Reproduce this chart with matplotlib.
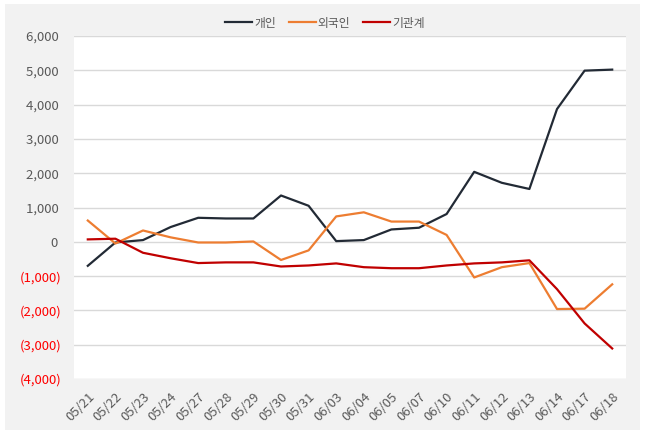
import matplotlib.pyplot as plt
import matplotlib.ticker as ticker
from matplotlib.patches import Rectangle

plt.rcParams['font.family'] = ['Noto Sans CJK KR', 'DejaVu Sans']

dates = ["05/21", "05/22", "05/23", "05/24", "05/27", "05/28", "05/29", "05/30", "05/31", "06/03",
         "06/04", "06/05", "06/07", "06/10", "06/11", "06/12", "06/13", "06/14", "06/17", "06/18"]
personal = [-700, -20, 50, 430, 700, 680, 680, 1350, 1050, 20,
            50, 360, 410, 810, 2040, 1720, 1540, 3870, 4990, 5020]
foreign = [620, -50, 330, 130, -20, -20, 10, -530, -250, 740,
           860, 590, 590, 200, -1040, -740, -620, -1960, -1950, -1240]
institution = [70, 90, -320, -480, -620, -600, -600, -720, -690, -630,
               -740, -770, -770, -690, -630, -600, -540, -1380, -2380, -3110]

fig = plt.figure(figsize=(6.45, 4.34), dpi=100, facecolor='white')
fig.patches.append(Rectangle((5 / 645, 4 / 434), 635 / 645, 426 / 434, transform=fig.transFigure,
                             facecolor='#f2f2f2', edgecolor='none', zorder=-10))
ax = fig.add_axes([74 / 645, 1 - 379 / 434, 552 / 645, 343 / 434])
ax.set_facecolor('white')

x = range(len(dates))
ax.plot(x, personal, color='#222a35', lw=1.6, label='개인')
ax.plot(x, foreign, color='#ed7d31', lw=1.6, label='외국인')
ax.plot(x, institution, color='#c00000', lw=1.6, label='기관계')

ax.set_xlim(-0.5, len(dates) - 0.5)
ax.set_ylim(-4000, 6000)
ax.set_yticks(range(-4000, 6001, 1000))


def fmt(v, pos):
    return f"({abs(v):,.0f})" if v < 0 else f"{v:,.0f} "


ax.yaxis.set_major_formatter(ticker.FuncFormatter(fmt))
ax.set_xticks(list(x))
ax.set_xticklabels(dates, rotation=45, ha='right', rotation_mode='anchor')
ax.tick_params(length=0, labelsize=9.5, colors='#595959')
ax.tick_params(axis='x', pad=8)
ax.tick_params(axis='y', pad=9)
for lbl in ax.get_yticklabels():
    if lbl.get_text().startswith('('):
        lbl.set_color('#ff0000')
ax.grid(axis='y', color='#d9d9d9', lw=1)
ax.set_axisbelow(True)
for s in ax.spines.values():
    s.set_visible(False)

leg = fig.legend(loc='center', bbox_to_anchor=(325 / 645, 1 - 23 / 434), ncol=3, frameon=False,
                 fontsize=8.5, handlelength=2.3, handletextpad=0.15, columnspacing=1.1)
for t in leg.get_texts():
    t.set_color('#595959')

fig.savefig('out.png', dpi=100, facecolor=fig.get_facecolor())
